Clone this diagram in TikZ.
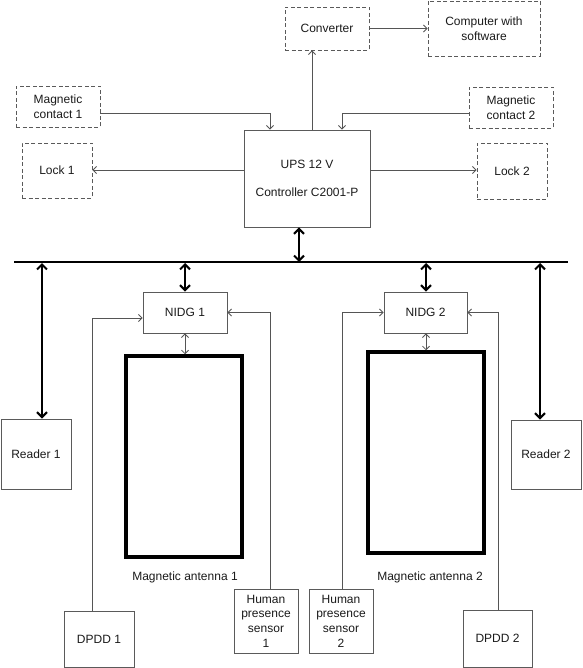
\documentclass[tikz,border=0pt]{standalone}
\usepackage{fontspec}
\setmainfont{Liberation Sans}
\usetikzlibrary{arrows.meta}
\definecolor{boxgray}{HTML}{5A5A5A}
\definecolor{linegray}{HTML}{555555}
\definecolor{txt}{HTML}{1A1A1A}
\begin{document}
\begin{tikzpicture}[x=1pt,y=-1pt,
  font=\fontsize{12}{14.6}\selectfont,
  box/.style={draw=boxgray, line width=0.9pt, rectangle, inner sep=0pt, align=center, text=txt},
  dbox/.style={box, dash pattern=on 4pt off 2.5pt},
  antenna/.style={draw=black, line width=3.5pt, rectangle, inner sep=0pt},
  thinarrow/.style={draw=linegray, line width=0.8pt, -{Straight Barb[length=3.5pt,width=7pt]}},
  thinboth/.style={draw=linegray, line width=0.8pt, {Straight Barb[length=3.5pt,width=7pt]}-{Straight Barb[length=3.5pt,width=7pt]}},
  bigboth/.style={draw=black, line width=2pt, {Straight Barb[length=5pt,width=10pt]}-{Straight Barb[length=5pt,width=10pt]}},
  bus/.style={draw=black, line width=2pt},
  lbl/.style={inner sep=0pt, text=txt}
]
\useasboundingbox (0,0) rectangle (582,668);

% top dashed boxes
\node[dbox, minimum width=84pt, minimum height=43pt] (conv) at (327,28.5) {Converter};
\node[dbox, minimum width=112pt, minimum height=55pt] (comp) at (484,28.5) {Computer with\\software};
\node[dbox, minimum width=84pt, minimum height=41pt] (mc1) at (58,106.5) {Magnetic\\contact 1};
\node[dbox, minimum width=84pt, minimum height=41pt] (mc2) at (511,107.5) {Magnetic\\contact 2};
\node[dbox, minimum width=70pt, minimum height=55pt] (lock1) at (57,170.5) {Lock 1};
\node[dbox, minimum width=70pt, minimum height=56pt] (lock2) at (512,171) {Lock 2};

% UPS / controller
\node[box, minimum width=126pt, minimum height=97pt] (ups) at (307,178.5) {UPS 12 V\\[13pt]Controller C2001-P};

% bus
\coordinate (busL) at (14,262);
\coordinate (busR) at (568,262);
\draw[bus] (busL) -- (busR);

% NIDG
\node[box, minimum width=84pt, minimum height=41pt] (nidg1) at (185,312.5) {NIDG 1};
\node[box, minimum width=83pt, minimum height=41pt] (nidg2) at (425.5,312.5) {NIDG 2};

% antennas
\node[antenna, minimum width=116pt, minimum height=201pt] (ant1) at (184,456.5) {};
\node[antenna, minimum width=116pt, minimum height=201pt] (ant2) at (426,452.5) {};
\node[lbl] (ant1l) at (185,577) {Magnetic antenna 1};
\node[lbl] (ant2l) at (430,577) {Magnetic antenna 2};

% readers
\node[box, minimum width=70pt, minimum height=70pt] (rd1) at (36,454) {Reader 1};
\node[box, minimum width=70pt, minimum height=69pt] (rd2) at (546,454.5) {Reader 2};

% bottom devices
\node[box, minimum width=70pt, minimum height=56pt] (dpdd1) at (99,639) {DPDD 1};
\node[box, minimum width=64pt, minimum height=64pt] (hps1) at (266,621) {Human\\presence\\sensor\\1};
\node[box, minimum width=64pt, minimum height=64pt] (hps2) at (341,621) {Human\\presence\\sensor\\2};
\node[box, minimum width=69pt, minimum height=57pt] (dpdd2) at (497.5,638.5) {DPDD 2};

% top connections
\draw[thinarrow] (conv.east) -- (conv.east -| comp.west);
\draw[thinarrow] ([xshift=5pt]ups.north) -- ([xshift=5pt]ups.north |- conv.south);
\draw[thinarrow] ([yshift=-6.5pt]mc1.east) -| ([xshift=-37pt]ups.north);
\draw[thinarrow] ([yshift=-6pt]mc2.west) -| ([xshift=35pt]ups.north);
\draw[thinarrow] ([yshift=8.5pt]ups.west) -- ([yshift=8.5pt]ups.west -| lock1.east);
\draw[thinarrow] ([yshift=8.5pt]ups.east) -- ([yshift=8.5pt]ups.east -| lock2.west);

% bus connections
\draw[bigboth] ([xshift=-8pt]ups.south) -- ([xshift=-8pt]ups.south |- busL);
\draw[bigboth] ([yshift=-1pt]nidg1.north |- busL) -- (nidg1.north);
\draw[bigboth] ([yshift=-1pt,xshift=0.5pt]nidg2.north |- busL) -- ([xshift=0.5pt]nidg2.north);
\draw[bigboth] ([yshift=-1pt,xshift=6pt]rd1.north |- busL) -- ([xshift=6pt]rd1.north);
\draw[bigboth] ([yshift=-1pt,xshift=-6pt]rd2.north |- busL) -- ([xshift=-6pt]rd2.north);

% NIDG <-> antenna
\draw[thinboth] (nidg1.south) -- (nidg1.south |- ant1.north);
\draw[thinboth] ([xshift=0.5pt]nidg2.south) -- ([xshift=0.5pt]nidg2.south |- ant2.north);

% sensors to NIDG
\draw[thinarrow] ([xshift=-7pt]dpdd1.north) |- ([yshift=-5.5pt]nidg1.west);
\draw[thinarrow] ([xshift=4pt]hps1.north) |- (nidg1.east);
\draw[thinarrow] ([xshift=1pt]hps2.north) |- (nidg2.west);
\draw[thinarrow] ([xshift=0.5pt]dpdd2.north) |- (nidg2.east);
\end{tikzpicture}
\end{document}
